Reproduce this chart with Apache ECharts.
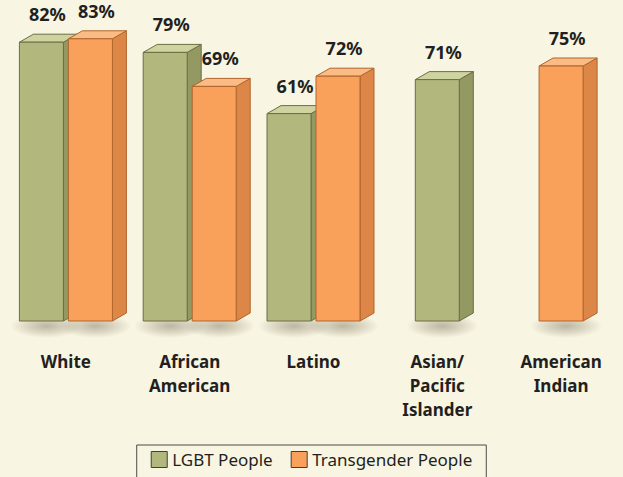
<!DOCTYPE html>
<html>
<head>
<meta charset="utf-8">
<script src="https://cdn.jsdelivr.net/npm/echarts@6/dist/echarts.min.js"></script>
<style>
  html, body { margin: 0; padding: 0; background: #f8f5e2; }
  #main { width: 623px; height: 477px; }
</style>
</head>
<body>
<div id="main"></div>
<script>
var categories = ['White', 'African\nAmerican', 'Latino', 'Asian/\nPacific\nIslander', 'American\nIndian'];
var lgbtValues = [82, 79, 61, 71, null];
var transValues = [83, 69, 72, null, 75];

var BAR_W = 44;
var GAP = 5;
var DX = 14;
var DY = 8;

var palette = [
    { front: '#b2b77d', top: '#cfd3a0', side: '#949963', stroke: '#6a6f45' },
    { front: '#f9a05b', top: '#fbbb85', side: '#dc8748', stroke: '#b0652c' }
];

function toData(values) {
    var out = [];
    for (var i = 0; i < values.length; i++) {
        if (values[i] != null) out.push([i, values[i]]);
    }
    return out;
}

function renderBar(params, api) {
    var ci = api.value(0);
    var v = api.value(1);
    var base = api.coord([ci, 0]);
    var top = api.coord([ci, v]);
    var cx = base[0], y0 = base[1], y = top[1];
    var other = params.seriesIndex === 0 ? transValues[ci] : lgbtValues[ci];
    var x;
    if (other == null) {
        x = cx - BAR_W / 2;
    } else if (params.seriesIndex === 0) {
        x = cx - GAP / 2 - BAR_W;
    } else {
        x = cx + GAP / 2;
    }
    var c = palette[params.seriesIndex];
    var w = BAR_W;
    return {
        type: 'group',
        children: [
            {
                type: 'ellipse',
                shape: { cx: x + w / 2 + 5, cy: y0 + 5, rx: 36, ry: 12 },
                style: {
                    fill: {
                        type: 'radial', x: 0.5, y: 0.5, r: 0.5,
                        colorStops: [
                            { offset: 0, color: 'rgba(90,80,55,0.38)' },
                            { offset: 0.6, color: 'rgba(90,80,55,0.16)' },
                            { offset: 1, color: 'rgba(90,80,55,0)' }
                        ]
                    }
                }
            },
            {
                type: 'polygon',
                shape: { points: [[x + w, y], [x + w + DX, y - DY], [x + w + DX, y0 - DY], [x + w, y0]] },
                style: { fill: c.side, stroke: c.stroke, lineWidth: 1 }
            },
            {
                type: 'polygon',
                shape: { points: [[x, y], [x + DX, y - DY], [x + w + DX, y - DY], [x + w, y]] },
                style: { fill: c.top, stroke: c.stroke, lineWidth: 1 }
            },
            {
                type: 'rect',
                shape: { x: x, y: y, width: w, height: y0 - y },
                style: { fill: c.front, stroke: c.stroke, lineWidth: 1 }
            },
            {
                type: 'text',
                x: x + w / 2 + 6,
                y: y - 28,
                style: {
                    text: v + '%',
                    fill: '#231f20',
                    font: 'bold 18px "Noto Sans"',
                    align: 'center',
                    verticalAlign: 'middle'
                }
            }
        ]
    };
}

var myChart = echarts.init(document.getElementById('main'), null, { renderer: 'svg' });

var option = {
    backgroundColor: '#f8f5e2',
    animation: false,
    textStyle: { fontFamily: 'Noto Sans' },
    grid: { left: 4, right: -21, top: 15, bottom: 156 },
    xAxis: {
        type: 'category',
        data: categories,
        axisLine: { show: false },
        axisTick: { show: false },
        axisLabel: {
            margin: 28,
            fontSize: 17,
            fontWeight: 'bold',
            lineHeight: 24,
            color: '#231f20',
            interval: 0
        }
    },
    yAxis: {
        type: 'value',
        min: 0,
        max: 90,
        show: false,
        splitLine: { show: false }
    },
    legend: {
        top: 445,
        left: 'center',
        itemWidth: 16,
        itemHeight: 16,
        itemGap: 18,
        padding: [6, 14, 12, 14],
        borderColor: '#4a4a4a',
        borderWidth: 1,
        textStyle: { fontSize: 17, color: '#231f20', fontFamily: 'Noto Sans' },
        data: [
            { name: 'LGBT People', icon: 'rect', itemStyle: { color: palette[0].front, borderColor: '#3f3f3f', borderWidth: 1 } },
            { name: 'Transgender People', icon: 'rect', itemStyle: { color: palette[1].front, borderColor: '#3f3f3f', borderWidth: 1 } }
        ]
    },
    series: [
        {
            name: 'LGBT People',
            type: 'custom',
            renderItem: renderBar,
            itemStyle: { color: palette[0].front },
            data: toData(lgbtValues)
        },
        {
            name: 'Transgender People',
            type: 'custom',
            renderItem: renderBar,
            itemStyle: { color: palette[1].front },
            data: toData(transValues)
        }
    ]
};

myChart.setOption(option);
</script>
</body>
</html>
